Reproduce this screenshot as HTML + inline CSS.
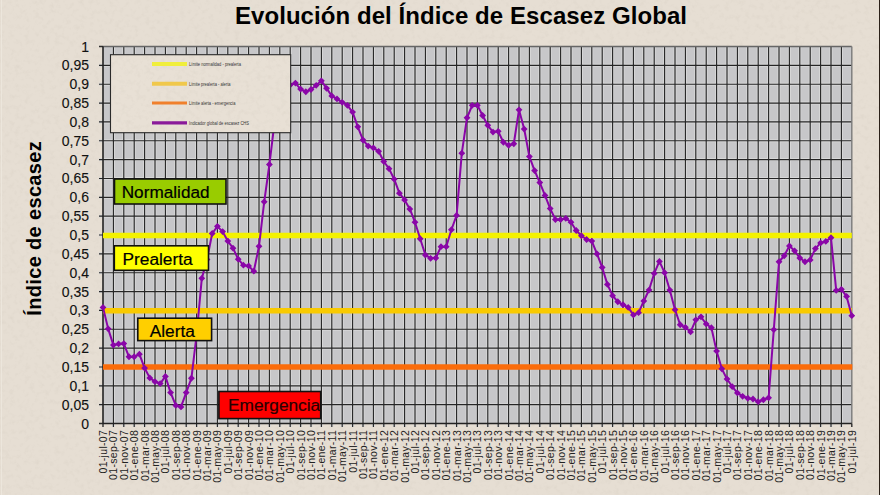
<!DOCTYPE html><html><head><meta charset="utf-8"><style>html,body{margin:0;padding:0;background:#e6ded3;}body{width:880px;height:495px;overflow:hidden;position:relative;font-family:"Liberation Sans",sans-serif;}svg{position:absolute;left:0;top:0;}</style></head><body><svg width="880" height="495" viewBox="0 0 880 495" font-family="Liberation Sans, sans-serif"><defs><filter id="tx" x="0" y="0" width="100%" height="100%"><feTurbulence type="fractalNoise" baseFrequency="0.2" numOctaves="3" seed="7" result="n"/><feColorMatrix in="n" type="matrix" values="0 0 0 0 0.45  0 0 0 0 0.4  0 0 0 0 0.33  2.5 0 0 0 -1.2"/></filter></defs><rect x="0" y="0" width="880" height="495" fill="#e6ded3"/><rect x="0" y="0" width="880" height="495" filter="url(#tx)" opacity="0.1"/><rect x="1" y="0" width="1" height="495" fill="#ece6dc"/><rect x="879" y="0" width="1" height="495" fill="#2a2018"/><text x="461" y="23.8" font-size="24" letter-spacing="0.07" font-weight="bold" text-anchor="middle" fill="#000">Evolución del Índice de Escasez Global</text><rect x="103.00" y="46.50" width="748.80" height="377.00" fill="#c7c7c9"/><path d="M113.40 46.50V427.00M123.80 46.50V427.00M134.20 46.50V427.00M144.60 46.50V427.00M155.00 46.50V427.00M165.40 46.50V427.00M175.80 46.50V427.00M186.20 46.50V427.00M196.60 46.50V427.00M207.00 46.50V427.00M217.40 46.50V427.00M227.80 46.50V427.00M238.20 46.50V427.00M248.60 46.50V427.00M259.00 46.50V427.00M269.40 46.50V427.00M279.80 46.50V427.00M290.20 46.50V427.00M300.60 46.50V427.00M311.00 46.50V427.00M321.40 46.50V427.00M331.80 46.50V427.00M342.20 46.50V427.00M352.60 46.50V427.00M363.00 46.50V427.00M373.40 46.50V427.00M383.80 46.50V427.00M394.20 46.50V427.00M404.60 46.50V427.00M415.00 46.50V427.00M425.40 46.50V427.00M435.80 46.50V427.00M446.20 46.50V427.00M456.60 46.50V427.00M467.00 46.50V427.00M477.40 46.50V427.00M487.80 46.50V427.00M498.20 46.50V427.00M508.60 46.50V427.00M519.00 46.50V427.00M529.40 46.50V427.00M539.80 46.50V427.00M550.20 46.50V427.00M560.60 46.50V427.00M571.00 46.50V427.00M581.40 46.50V427.00M591.80 46.50V427.00M602.20 46.50V427.00M612.60 46.50V427.00M623.00 46.50V427.00M633.40 46.50V427.00M643.80 46.50V427.00M654.20 46.50V427.00M664.60 46.50V427.00M675.00 46.50V427.00M685.40 46.50V427.00M695.80 46.50V427.00M706.20 46.50V427.00M716.60 46.50V427.00M727.00 46.50V427.00M737.40 46.50V427.00M747.80 46.50V427.00M758.20 46.50V427.00M768.60 46.50V427.00M779.00 46.50V427.00M789.40 46.50V427.00M799.80 46.50V427.00M810.20 46.50V427.00M820.60 46.50V427.00M831.00 46.50V427.00M841.40 46.50V427.00M99.00 65.35H851.80M99.00 84.20H851.80M99.00 103.05H851.80M99.00 121.90H851.80M99.00 140.75H851.80M99.00 159.60H851.80M99.00 178.45H851.80M99.00 197.30H851.80M99.00 216.15H851.80M99.00 235.00H851.80M99.00 253.85H851.80M99.00 272.70H851.80M99.00 291.55H851.80M99.00 310.40H851.80M99.00 329.25H851.80M99.00 348.10H851.80M99.00 366.95H851.80M99.00 385.80H851.80M99.00 404.65H851.80" stroke="#d8d8d8" stroke-width="3" fill="none"/><path d="M113.40 46.50V427.00M123.80 46.50V427.00M134.20 46.50V427.00M144.60 46.50V427.00M155.00 46.50V427.00M165.40 46.50V427.00M175.80 46.50V427.00M186.20 46.50V427.00M196.60 46.50V427.00M207.00 46.50V427.00M217.40 46.50V427.00M227.80 46.50V427.00M238.20 46.50V427.00M248.60 46.50V427.00M259.00 46.50V427.00M269.40 46.50V427.00M279.80 46.50V427.00M290.20 46.50V427.00M300.60 46.50V427.00M311.00 46.50V427.00M321.40 46.50V427.00M331.80 46.50V427.00M342.20 46.50V427.00M352.60 46.50V427.00M363.00 46.50V427.00M373.40 46.50V427.00M383.80 46.50V427.00M394.20 46.50V427.00M404.60 46.50V427.00M415.00 46.50V427.00M425.40 46.50V427.00M435.80 46.50V427.00M446.20 46.50V427.00M456.60 46.50V427.00M467.00 46.50V427.00M477.40 46.50V427.00M487.80 46.50V427.00M498.20 46.50V427.00M508.60 46.50V427.00M519.00 46.50V427.00M529.40 46.50V427.00M539.80 46.50V427.00M550.20 46.50V427.00M560.60 46.50V427.00M571.00 46.50V427.00M581.40 46.50V427.00M591.80 46.50V427.00M602.20 46.50V427.00M612.60 46.50V427.00M623.00 46.50V427.00M633.40 46.50V427.00M643.80 46.50V427.00M654.20 46.50V427.00M664.60 46.50V427.00M675.00 46.50V427.00M685.40 46.50V427.00M695.80 46.50V427.00M706.20 46.50V427.00M716.60 46.50V427.00M727.00 46.50V427.00M737.40 46.50V427.00M747.80 46.50V427.00M758.20 46.50V427.00M768.60 46.50V427.00M779.00 46.50V427.00M789.40 46.50V427.00M799.80 46.50V427.00M810.20 46.50V427.00M820.60 46.50V427.00M831.00 46.50V427.00M841.40 46.50V427.00M99.00 65.35H851.80M99.00 84.20H851.80M99.00 103.05H851.80M99.00 121.90H851.80M99.00 140.75H851.80M99.00 159.60H851.80M99.00 178.45H851.80M99.00 197.30H851.80M99.00 216.15H851.80M99.00 235.00H851.80M99.00 253.85H851.80M99.00 272.70H851.80M99.00 291.55H851.80M99.00 310.40H851.80M99.00 329.25H851.80M99.00 348.10H851.80M99.00 366.95H851.80M99.00 385.80H851.80M99.00 404.65H851.80" stroke="#262626" stroke-width="1.15" fill="none"/><path d="M99.00 46.50H103.00 M99.00 423.50H103.00 M103.00 423.50V427.00 M851.80 423.50V427.00" stroke="#2e2e2e" stroke-width="1.4"/><path d="M103.00 46.50H851.80" stroke="#666" stroke-width="1.5"/><path d="M851.80 46.50V423.50" stroke="#7a7a7a" stroke-width="1.4"/><path d="M103.00 46.50V423.50" stroke="#222" stroke-width="1.6"/><path d="M103.00 423.50H851.80" stroke="#222" stroke-width="1.6"/><path d="M103.00 235.60H851.80" stroke="#f4f200" stroke-width="5.5"/><path d="M103.00 310.80H851.80" stroke="#f9ca00" stroke-width="5.5"/><path d="M103.00 366.95H852.30" stroke="#fb6c0a" stroke-width="5.5"/><polyline points="103.00,307.38 108.20,328.87 113.40,345.08 118.60,343.95 123.80,343.58 129.00,356.77 134.20,356.77 139.40,354.13 144.60,368.08 149.80,377.88 155.00,381.65 160.20,383.54 165.40,376.38 170.60,392.59 175.80,405.40 181.00,406.91 186.20,392.59 191.40,378.26 196.60,334.90 201.80,278.36 207.00,259.50 212.20,233.49 217.40,226.33 222.60,231.61 227.80,241.03 233.00,248.19 238.20,259.13 243.40,265.16 248.60,265.91 253.80,271.19 259.00,246.31 264.20,201.82 269.40,164.50 274.60,121.90 279.80,99.28 285.00,87.97 290.20,84.95 295.40,83.07 300.60,89.10 305.80,91.74 311.00,89.48 316.20,85.33 321.40,80.81 326.60,88.35 331.80,95.89 337.00,98.90 342.20,102.30 347.40,105.31 352.60,112.10 357.80,126.80 363.00,140.00 368.20,146.03 373.40,147.91 378.60,151.31 383.80,161.49 389.00,168.65 394.20,179.20 399.40,193.15 404.60,199.94 409.80,208.99 415.00,222.18 420.20,238.77 425.40,254.98 430.60,258.37 435.80,258.00 441.00,246.69 446.20,246.69 451.40,229.72 456.60,215.40 461.80,153.19 467.00,117.75 472.20,105.31 477.40,105.31 482.60,115.49 487.80,125.29 493.00,132.08 498.20,131.32 503.40,142.26 508.60,145.27 513.80,143.77 519.00,109.84 524.20,129.06 529.40,156.58 534.60,170.53 539.80,182.60 545.00,195.42 550.20,208.61 555.40,219.54 560.60,219.54 565.80,218.41 571.00,222.18 576.20,230.48 581.40,235.75 586.60,239.52 591.80,241.03 597.00,253.85 602.20,267.42 607.40,284.39 612.60,295.70 617.80,301.73 623.00,304.75 628.20,307.38 633.40,314.92 638.60,312.66 643.80,300.98 649.00,290.04 654.20,273.45 659.40,261.39 664.60,272.70 669.80,290.04 675.00,309.65 680.20,324.73 685.40,327.37 690.60,331.89 695.80,319.82 701.00,316.81 706.20,323.97 711.40,327.74 716.60,351.12 721.80,368.83 727.00,379.01 732.20,386.55 737.40,392.96 742.60,396.36 747.80,398.24 753.00,399.00 758.20,401.63 763.40,399.75 768.60,397.86 773.80,329.63 779.00,261.77 784.20,255.73 789.40,245.93 794.60,250.83 799.80,258.00 805.00,261.77 810.20,259.88 815.40,248.57 820.60,242.92 825.80,241.41 831.00,237.64 836.20,290.42 841.40,289.29 846.60,296.45 851.80,315.68" fill="none" stroke="#8a06a8" stroke-width="2.0" stroke-linejoin="round"/><path d="M103.00 303.98l3.4 3.4l-3.4 3.4l-3.4 -3.4zM108.20 325.47l3.4 3.4l-3.4 3.4l-3.4 -3.4zM113.40 341.68l3.4 3.4l-3.4 3.4l-3.4 -3.4zM118.60 340.55l3.4 3.4l-3.4 3.4l-3.4 -3.4zM123.80 340.18l3.4 3.4l-3.4 3.4l-3.4 -3.4zM129.00 353.37l3.4 3.4l-3.4 3.4l-3.4 -3.4zM134.20 353.37l3.4 3.4l-3.4 3.4l-3.4 -3.4zM139.40 350.73l3.4 3.4l-3.4 3.4l-3.4 -3.4zM144.60 364.68l3.4 3.4l-3.4 3.4l-3.4 -3.4zM149.80 374.48l3.4 3.4l-3.4 3.4l-3.4 -3.4zM155.00 378.25l3.4 3.4l-3.4 3.4l-3.4 -3.4zM160.20 380.14l3.4 3.4l-3.4 3.4l-3.4 -3.4zM165.40 372.98l3.4 3.4l-3.4 3.4l-3.4 -3.4zM170.60 389.19l3.4 3.4l-3.4 3.4l-3.4 -3.4zM175.80 402.00l3.4 3.4l-3.4 3.4l-3.4 -3.4zM181.00 403.51l3.4 3.4l-3.4 3.4l-3.4 -3.4zM186.20 389.19l3.4 3.4l-3.4 3.4l-3.4 -3.4zM191.40 374.86l3.4 3.4l-3.4 3.4l-3.4 -3.4zM196.60 331.50l3.4 3.4l-3.4 3.4l-3.4 -3.4zM201.80 274.96l3.4 3.4l-3.4 3.4l-3.4 -3.4zM207.00 256.11l3.4 3.4l-3.4 3.4l-3.4 -3.4zM212.20 230.09l3.4 3.4l-3.4 3.4l-3.4 -3.4zM217.40 222.93l3.4 3.4l-3.4 3.4l-3.4 -3.4zM222.60 228.21l3.4 3.4l-3.4 3.4l-3.4 -3.4zM227.80 237.63l3.4 3.4l-3.4 3.4l-3.4 -3.4zM233.00 244.79l3.4 3.4l-3.4 3.4l-3.4 -3.4zM238.20 255.73l3.4 3.4l-3.4 3.4l-3.4 -3.4zM243.40 261.76l3.4 3.4l-3.4 3.4l-3.4 -3.4zM248.60 262.51l3.4 3.4l-3.4 3.4l-3.4 -3.4zM253.80 267.79l3.4 3.4l-3.4 3.4l-3.4 -3.4zM259.00 242.91l3.4 3.4l-3.4 3.4l-3.4 -3.4zM264.20 198.42l3.4 3.4l-3.4 3.4l-3.4 -3.4zM269.40 161.10l3.4 3.4l-3.4 3.4l-3.4 -3.4zM274.60 118.50l3.4 3.4l-3.4 3.4l-3.4 -3.4zM279.80 95.88l3.4 3.4l-3.4 3.4l-3.4 -3.4zM285.00 84.57l3.4 3.4l-3.4 3.4l-3.4 -3.4zM290.20 81.55l3.4 3.4l-3.4 3.4l-3.4 -3.4zM295.40 79.67l3.4 3.4l-3.4 3.4l-3.4 -3.4zM300.60 85.70l3.4 3.4l-3.4 3.4l-3.4 -3.4zM305.80 88.34l3.4 3.4l-3.4 3.4l-3.4 -3.4zM311.00 86.08l3.4 3.4l-3.4 3.4l-3.4 -3.4zM316.20 81.93l3.4 3.4l-3.4 3.4l-3.4 -3.4zM321.40 77.41l3.4 3.4l-3.4 3.4l-3.4 -3.4zM326.60 84.95l3.4 3.4l-3.4 3.4l-3.4 -3.4zM331.80 92.49l3.4 3.4l-3.4 3.4l-3.4 -3.4zM337.00 95.50l3.4 3.4l-3.4 3.4l-3.4 -3.4zM342.20 98.90l3.4 3.4l-3.4 3.4l-3.4 -3.4zM347.40 101.91l3.4 3.4l-3.4 3.4l-3.4 -3.4zM352.60 108.70l3.4 3.4l-3.4 3.4l-3.4 -3.4zM357.80 123.40l3.4 3.4l-3.4 3.4l-3.4 -3.4zM363.00 136.60l3.4 3.4l-3.4 3.4l-3.4 -3.4zM368.20 142.63l3.4 3.4l-3.4 3.4l-3.4 -3.4zM373.40 144.51l3.4 3.4l-3.4 3.4l-3.4 -3.4zM378.60 147.91l3.4 3.4l-3.4 3.4l-3.4 -3.4zM383.80 158.09l3.4 3.4l-3.4 3.4l-3.4 -3.4zM389.00 165.25l3.4 3.4l-3.4 3.4l-3.4 -3.4zM394.20 175.80l3.4 3.4l-3.4 3.4l-3.4 -3.4zM399.40 189.75l3.4 3.4l-3.4 3.4l-3.4 -3.4zM404.60 196.54l3.4 3.4l-3.4 3.4l-3.4 -3.4zM409.80 205.59l3.4 3.4l-3.4 3.4l-3.4 -3.4zM415.00 218.78l3.4 3.4l-3.4 3.4l-3.4 -3.4zM420.20 235.37l3.4 3.4l-3.4 3.4l-3.4 -3.4zM425.40 251.58l3.4 3.4l-3.4 3.4l-3.4 -3.4zM430.60 254.97l3.4 3.4l-3.4 3.4l-3.4 -3.4zM435.80 254.60l3.4 3.4l-3.4 3.4l-3.4 -3.4zM441.00 243.29l3.4 3.4l-3.4 3.4l-3.4 -3.4zM446.20 243.29l3.4 3.4l-3.4 3.4l-3.4 -3.4zM451.40 226.32l3.4 3.4l-3.4 3.4l-3.4 -3.4zM456.60 212.00l3.4 3.4l-3.4 3.4l-3.4 -3.4zM461.80 149.79l3.4 3.4l-3.4 3.4l-3.4 -3.4zM467.00 114.35l3.4 3.4l-3.4 3.4l-3.4 -3.4zM472.20 101.91l3.4 3.4l-3.4 3.4l-3.4 -3.4zM477.40 101.91l3.4 3.4l-3.4 3.4l-3.4 -3.4zM482.60 112.09l3.4 3.4l-3.4 3.4l-3.4 -3.4zM487.80 121.89l3.4 3.4l-3.4 3.4l-3.4 -3.4zM493.00 128.68l3.4 3.4l-3.4 3.4l-3.4 -3.4zM498.20 127.92l3.4 3.4l-3.4 3.4l-3.4 -3.4zM503.40 138.86l3.4 3.4l-3.4 3.4l-3.4 -3.4zM508.60 141.87l3.4 3.4l-3.4 3.4l-3.4 -3.4zM513.80 140.37l3.4 3.4l-3.4 3.4l-3.4 -3.4zM519.00 106.44l3.4 3.4l-3.4 3.4l-3.4 -3.4zM524.20 125.66l3.4 3.4l-3.4 3.4l-3.4 -3.4zM529.40 153.18l3.4 3.4l-3.4 3.4l-3.4 -3.4zM534.60 167.13l3.4 3.4l-3.4 3.4l-3.4 -3.4zM539.80 179.20l3.4 3.4l-3.4 3.4l-3.4 -3.4zM545.00 192.02l3.4 3.4l-3.4 3.4l-3.4 -3.4zM550.20 205.21l3.4 3.4l-3.4 3.4l-3.4 -3.4zM555.40 216.14l3.4 3.4l-3.4 3.4l-3.4 -3.4zM560.60 216.14l3.4 3.4l-3.4 3.4l-3.4 -3.4zM565.80 215.01l3.4 3.4l-3.4 3.4l-3.4 -3.4zM571.00 218.78l3.4 3.4l-3.4 3.4l-3.4 -3.4zM576.20 227.08l3.4 3.4l-3.4 3.4l-3.4 -3.4zM581.40 232.35l3.4 3.4l-3.4 3.4l-3.4 -3.4zM586.60 236.12l3.4 3.4l-3.4 3.4l-3.4 -3.4zM591.80 237.63l3.4 3.4l-3.4 3.4l-3.4 -3.4zM597.00 250.45l3.4 3.4l-3.4 3.4l-3.4 -3.4zM602.20 264.02l3.4 3.4l-3.4 3.4l-3.4 -3.4zM607.40 280.99l3.4 3.4l-3.4 3.4l-3.4 -3.4zM612.60 292.30l3.4 3.4l-3.4 3.4l-3.4 -3.4zM617.80 298.33l3.4 3.4l-3.4 3.4l-3.4 -3.4zM623.00 301.35l3.4 3.4l-3.4 3.4l-3.4 -3.4zM628.20 303.98l3.4 3.4l-3.4 3.4l-3.4 -3.4zM633.40 311.52l3.4 3.4l-3.4 3.4l-3.4 -3.4zM638.60 309.26l3.4 3.4l-3.4 3.4l-3.4 -3.4zM643.80 297.58l3.4 3.4l-3.4 3.4l-3.4 -3.4zM649.00 286.64l3.4 3.4l-3.4 3.4l-3.4 -3.4zM654.20 270.05l3.4 3.4l-3.4 3.4l-3.4 -3.4zM659.40 257.99l3.4 3.4l-3.4 3.4l-3.4 -3.4zM664.60 269.30l3.4 3.4l-3.4 3.4l-3.4 -3.4zM669.80 286.64l3.4 3.4l-3.4 3.4l-3.4 -3.4zM675.00 306.25l3.4 3.4l-3.4 3.4l-3.4 -3.4zM680.20 321.33l3.4 3.4l-3.4 3.4l-3.4 -3.4zM685.40 323.97l3.4 3.4l-3.4 3.4l-3.4 -3.4zM690.60 328.49l3.4 3.4l-3.4 3.4l-3.4 -3.4zM695.80 316.43l3.4 3.4l-3.4 3.4l-3.4 -3.4zM701.00 313.41l3.4 3.4l-3.4 3.4l-3.4 -3.4zM706.20 320.57l3.4 3.4l-3.4 3.4l-3.4 -3.4zM711.40 324.34l3.4 3.4l-3.4 3.4l-3.4 -3.4zM716.60 347.72l3.4 3.4l-3.4 3.4l-3.4 -3.4zM721.80 365.44l3.4 3.4l-3.4 3.4l-3.4 -3.4zM727.00 375.61l3.4 3.4l-3.4 3.4l-3.4 -3.4zM732.20 383.15l3.4 3.4l-3.4 3.4l-3.4 -3.4zM737.40 389.56l3.4 3.4l-3.4 3.4l-3.4 -3.4zM742.60 392.96l3.4 3.4l-3.4 3.4l-3.4 -3.4zM747.80 394.84l3.4 3.4l-3.4 3.4l-3.4 -3.4zM753.00 395.60l3.4 3.4l-3.4 3.4l-3.4 -3.4zM758.20 398.23l3.4 3.4l-3.4 3.4l-3.4 -3.4zM763.40 396.35l3.4 3.4l-3.4 3.4l-3.4 -3.4zM768.60 394.46l3.4 3.4l-3.4 3.4l-3.4 -3.4zM773.80 326.23l3.4 3.4l-3.4 3.4l-3.4 -3.4zM779.00 258.37l3.4 3.4l-3.4 3.4l-3.4 -3.4zM784.20 252.33l3.4 3.4l-3.4 3.4l-3.4 -3.4zM789.40 242.53l3.4 3.4l-3.4 3.4l-3.4 -3.4zM794.60 247.43l3.4 3.4l-3.4 3.4l-3.4 -3.4zM799.80 254.60l3.4 3.4l-3.4 3.4l-3.4 -3.4zM805.00 258.37l3.4 3.4l-3.4 3.4l-3.4 -3.4zM810.20 256.48l3.4 3.4l-3.4 3.4l-3.4 -3.4zM815.40 245.17l3.4 3.4l-3.4 3.4l-3.4 -3.4zM820.60 239.52l3.4 3.4l-3.4 3.4l-3.4 -3.4zM825.80 238.01l3.4 3.4l-3.4 3.4l-3.4 -3.4zM831.00 234.24l3.4 3.4l-3.4 3.4l-3.4 -3.4zM836.20 287.02l3.4 3.4l-3.4 3.4l-3.4 -3.4zM841.40 285.89l3.4 3.4l-3.4 3.4l-3.4 -3.4zM846.60 293.05l3.4 3.4l-3.4 3.4l-3.4 -3.4zM851.80 312.28l3.4 3.4l-3.4 3.4l-3.4 -3.4z" fill="#8a06a8"/><rect x="114.50" y="179.00" width="111.50" height="25.00" fill="#99cc00" stroke="#111" stroke-width="1.6"/><text x="121.70" y="197.69" font-size="17.2" fill="#000" stroke="#000" stroke-width="0.2">Normalidad</text><rect x="114.30" y="245.80" width="94.20" height="24.50" fill="#ffff00" stroke="#111" stroke-width="1.6"/><text x="122.50" y="265.28" font-size="17.3" fill="#000" stroke="#000" stroke-width="0.2">Prealerta</text><rect x="137.80" y="318.20" width="73.80" height="22.40" fill="#ffcf00" stroke="#111" stroke-width="1.6"/><text x="149.70" y="336.63" font-size="17.3" fill="#000" stroke="#000" stroke-width="0.2">Alerta</text><rect x="218.90" y="391.50" width="101.80" height="27.10" fill="#ff0000" stroke="#111" stroke-width="1.6"/><text x="228.00" y="410.78" font-size="17.3" fill="#2a0000" stroke="#2a0000" stroke-width="0.2">Emergencia</text><rect x="110.5" y="54.7" width="180.2" height="78.0" fill="#e8e0d5" stroke="#2a2a2a" stroke-width="1.1"/><svg x="111.1" y="55.3" width="179" height="76.8"><rect x="-111.1" y="-55.3" width="880" height="495" filter="url(#tx)" opacity="0.1"/></svg><path d="M152 63.90H187" stroke="#f0ee3c" stroke-width="4.0"/><text x="189" y="65.70" font-size="5" textLength="52.0" lengthAdjust="spacingAndGlyphs" fill="#333">Límite normalidad - prealerta</text><path d="M152 83.80H187" stroke="#f0c84c" stroke-width="4.0"/><text x="189" y="85.60" font-size="5" textLength="41.5" lengthAdjust="spacingAndGlyphs" fill="#333">Límite prealerta - alerta</text><path d="M152 103.00H187" stroke="#f0802c" stroke-width="3.2"/><text x="189" y="104.80" font-size="5" textLength="46.5" lengthAdjust="spacingAndGlyphs" fill="#333">Límite alerta - emergencia</text><path d="M152 122.80H187" stroke="#8a1a9a" stroke-width="3.2"/><text x="189" y="124.60" font-size="5" textLength="60.0" lengthAdjust="spacingAndGlyphs" fill="#333">Indicador global de escasez CHS</text><text x="89" y="51.50" font-size="14" text-anchor="end" fill="#111" stroke="#111" stroke-width="0.12">1</text><text x="89" y="70.35" font-size="14" text-anchor="end" fill="#111" stroke="#111" stroke-width="0.12">0,95</text><text x="89" y="89.20" font-size="14" text-anchor="end" fill="#111" stroke="#111" stroke-width="0.12">0,9</text><text x="89" y="108.05" font-size="14" text-anchor="end" fill="#111" stroke="#111" stroke-width="0.12">0,85</text><text x="89" y="126.90" font-size="14" text-anchor="end" fill="#111" stroke="#111" stroke-width="0.12">0,8</text><text x="89" y="145.75" font-size="14" text-anchor="end" fill="#111" stroke="#111" stroke-width="0.12">0,75</text><text x="89" y="164.60" font-size="14" text-anchor="end" fill="#111" stroke="#111" stroke-width="0.12">0,7</text><text x="89" y="183.45" font-size="14" text-anchor="end" fill="#111" stroke="#111" stroke-width="0.12">0,65</text><text x="89" y="202.30" font-size="14" text-anchor="end" fill="#111" stroke="#111" stroke-width="0.12">0,6</text><text x="89" y="221.15" font-size="14" text-anchor="end" fill="#111" stroke="#111" stroke-width="0.12">0,55</text><text x="89" y="240.00" font-size="14" text-anchor="end" fill="#111" stroke="#111" stroke-width="0.12">0,5</text><text x="89" y="258.85" font-size="14" text-anchor="end" fill="#111" stroke="#111" stroke-width="0.12">0,45</text><text x="89" y="277.70" font-size="14" text-anchor="end" fill="#111" stroke="#111" stroke-width="0.12">0,4</text><text x="89" y="296.55" font-size="14" text-anchor="end" fill="#111" stroke="#111" stroke-width="0.12">0,35</text><text x="89" y="315.40" font-size="14" text-anchor="end" fill="#111" stroke="#111" stroke-width="0.12">0,3</text><text x="89" y="334.25" font-size="14" text-anchor="end" fill="#111" stroke="#111" stroke-width="0.12">0,25</text><text x="89" y="353.10" font-size="14" text-anchor="end" fill="#111" stroke="#111" stroke-width="0.12">0,2</text><text x="89" y="371.95" font-size="14" text-anchor="end" fill="#111" stroke="#111" stroke-width="0.12">0,15</text><text x="89" y="390.80" font-size="14" text-anchor="end" fill="#111" stroke="#111" stroke-width="0.12">0,1</text><text x="89" y="409.65" font-size="14" text-anchor="end" fill="#111" stroke="#111" stroke-width="0.12">0,05</text><text x="89" y="428.50" font-size="14" text-anchor="end" fill="#111" stroke="#111" stroke-width="0.12">0</text><text transform="translate(41.2 228.3) rotate(-90)" font-size="20.1" letter-spacing="0.3" font-weight="bold" text-anchor="middle" fill="#000">Índice de escasez</text><text transform="translate(107.00 429.9) rotate(-90)" font-size="10.5" letter-spacing="0.3" text-anchor="end" fill="#222">01-jul-07</text><text transform="translate(117.40 429.9) rotate(-90)" font-size="10.5" letter-spacing="0.3" text-anchor="end" fill="#222">01-sep-07</text><text transform="translate(127.80 429.9) rotate(-90)" font-size="10.5" letter-spacing="0.3" text-anchor="end" fill="#222">01-nov-07</text><text transform="translate(138.20 429.9) rotate(-90)" font-size="10.5" letter-spacing="0.3" text-anchor="end" fill="#222">01-ene-08</text><text transform="translate(148.60 429.9) rotate(-90)" font-size="10.5" letter-spacing="0.3" text-anchor="end" fill="#222">01-mar-08</text><text transform="translate(159.00 429.9) rotate(-90)" font-size="10.5" letter-spacing="0.3" text-anchor="end" fill="#222">01-may-08</text><text transform="translate(169.40 429.9) rotate(-90)" font-size="10.5" letter-spacing="0.3" text-anchor="end" fill="#222">01-jul-08</text><text transform="translate(179.80 429.9) rotate(-90)" font-size="10.5" letter-spacing="0.3" text-anchor="end" fill="#222">01-sep-08</text><text transform="translate(190.20 429.9) rotate(-90)" font-size="10.5" letter-spacing="0.3" text-anchor="end" fill="#222">01-nov-08</text><text transform="translate(200.60 429.9) rotate(-90)" font-size="10.5" letter-spacing="0.3" text-anchor="end" fill="#222">01-ene-09</text><text transform="translate(211.00 429.9) rotate(-90)" font-size="10.5" letter-spacing="0.3" text-anchor="end" fill="#222">01-mar-09</text><text transform="translate(221.40 429.9) rotate(-90)" font-size="10.5" letter-spacing="0.3" text-anchor="end" fill="#222">01-may-09</text><text transform="translate(231.80 429.9) rotate(-90)" font-size="10.5" letter-spacing="0.3" text-anchor="end" fill="#222">01-jul-09</text><text transform="translate(242.20 429.9) rotate(-90)" font-size="10.5" letter-spacing="0.3" text-anchor="end" fill="#222">01-sep-09</text><text transform="translate(252.60 429.9) rotate(-90)" font-size="10.5" letter-spacing="0.3" text-anchor="end" fill="#222">01-nov-09</text><text transform="translate(263.00 429.9) rotate(-90)" font-size="10.5" letter-spacing="0.3" text-anchor="end" fill="#222">01-ene-10</text><text transform="translate(273.40 429.9) rotate(-90)" font-size="10.5" letter-spacing="0.3" text-anchor="end" fill="#222">01-mar-10</text><text transform="translate(283.80 429.9) rotate(-90)" font-size="10.5" letter-spacing="0.3" text-anchor="end" fill="#222">01-may-10</text><text transform="translate(294.20 429.9) rotate(-90)" font-size="10.5" letter-spacing="0.3" text-anchor="end" fill="#222">01-jul-10</text><text transform="translate(304.60 429.9) rotate(-90)" font-size="10.5" letter-spacing="0.3" text-anchor="end" fill="#222">01-sep-10</text><text transform="translate(315.00 429.9) rotate(-90)" font-size="10.5" letter-spacing="0.3" text-anchor="end" fill="#222">01-nov-10</text><text transform="translate(325.40 429.9) rotate(-90)" font-size="10.5" letter-spacing="0.3" text-anchor="end" fill="#222">01-ene-11</text><text transform="translate(335.80 429.9) rotate(-90)" font-size="10.5" letter-spacing="0.3" text-anchor="end" fill="#222">01-mar-11</text><text transform="translate(346.20 429.9) rotate(-90)" font-size="10.5" letter-spacing="0.3" text-anchor="end" fill="#222">01-may-11</text><text transform="translate(356.60 429.9) rotate(-90)" font-size="10.5" letter-spacing="0.3" text-anchor="end" fill="#222">01-jul-11</text><text transform="translate(367.00 429.9) rotate(-90)" font-size="10.5" letter-spacing="0.3" text-anchor="end" fill="#222">01-sep-11</text><text transform="translate(377.40 429.9) rotate(-90)" font-size="10.5" letter-spacing="0.3" text-anchor="end" fill="#222">01-nov-11</text><text transform="translate(387.80 429.9) rotate(-90)" font-size="10.5" letter-spacing="0.3" text-anchor="end" fill="#222">01-ene-12</text><text transform="translate(398.20 429.9) rotate(-90)" font-size="10.5" letter-spacing="0.3" text-anchor="end" fill="#222">01-mar-12</text><text transform="translate(408.60 429.9) rotate(-90)" font-size="10.5" letter-spacing="0.3" text-anchor="end" fill="#222">01-may-12</text><text transform="translate(419.00 429.9) rotate(-90)" font-size="10.5" letter-spacing="0.3" text-anchor="end" fill="#222">01-jul-12</text><text transform="translate(429.40 429.9) rotate(-90)" font-size="10.5" letter-spacing="0.3" text-anchor="end" fill="#222">01-sep-12</text><text transform="translate(439.80 429.9) rotate(-90)" font-size="10.5" letter-spacing="0.3" text-anchor="end" fill="#222">01-nov-12</text><text transform="translate(450.20 429.9) rotate(-90)" font-size="10.5" letter-spacing="0.3" text-anchor="end" fill="#222">01-ene-13</text><text transform="translate(460.60 429.9) rotate(-90)" font-size="10.5" letter-spacing="0.3" text-anchor="end" fill="#222">01-mar-13</text><text transform="translate(471.00 429.9) rotate(-90)" font-size="10.5" letter-spacing="0.3" text-anchor="end" fill="#222">01-may-13</text><text transform="translate(481.40 429.9) rotate(-90)" font-size="10.5" letter-spacing="0.3" text-anchor="end" fill="#222">01-jul-13</text><text transform="translate(491.80 429.9) rotate(-90)" font-size="10.5" letter-spacing="0.3" text-anchor="end" fill="#222">01-sep-13</text><text transform="translate(502.20 429.9) rotate(-90)" font-size="10.5" letter-spacing="0.3" text-anchor="end" fill="#222">01-nov-13</text><text transform="translate(512.60 429.9) rotate(-90)" font-size="10.5" letter-spacing="0.3" text-anchor="end" fill="#222">01-ene-14</text><text transform="translate(523.00 429.9) rotate(-90)" font-size="10.5" letter-spacing="0.3" text-anchor="end" fill="#222">01-mar-14</text><text transform="translate(533.40 429.9) rotate(-90)" font-size="10.5" letter-spacing="0.3" text-anchor="end" fill="#222">01-may-14</text><text transform="translate(543.80 429.9) rotate(-90)" font-size="10.5" letter-spacing="0.3" text-anchor="end" fill="#222">01-jul-14</text><text transform="translate(554.20 429.9) rotate(-90)" font-size="10.5" letter-spacing="0.3" text-anchor="end" fill="#222">01-sep-14</text><text transform="translate(564.60 429.9) rotate(-90)" font-size="10.5" letter-spacing="0.3" text-anchor="end" fill="#222">01-nov-14</text><text transform="translate(575.00 429.9) rotate(-90)" font-size="10.5" letter-spacing="0.3" text-anchor="end" fill="#222">01-ene-15</text><text transform="translate(585.40 429.9) rotate(-90)" font-size="10.5" letter-spacing="0.3" text-anchor="end" fill="#222">01-mar-15</text><text transform="translate(595.80 429.9) rotate(-90)" font-size="10.5" letter-spacing="0.3" text-anchor="end" fill="#222">01-may-15</text><text transform="translate(606.20 429.9) rotate(-90)" font-size="10.5" letter-spacing="0.3" text-anchor="end" fill="#222">01-jul-15</text><text transform="translate(616.60 429.9) rotate(-90)" font-size="10.5" letter-spacing="0.3" text-anchor="end" fill="#222">01-sep-15</text><text transform="translate(627.00 429.9) rotate(-90)" font-size="10.5" letter-spacing="0.3" text-anchor="end" fill="#222">01-nov-15</text><text transform="translate(637.40 429.9) rotate(-90)" font-size="10.5" letter-spacing="0.3" text-anchor="end" fill="#222">01-ene-16</text><text transform="translate(647.80 429.9) rotate(-90)" font-size="10.5" letter-spacing="0.3" text-anchor="end" fill="#222">01-mar-16</text><text transform="translate(658.20 429.9) rotate(-90)" font-size="10.5" letter-spacing="0.3" text-anchor="end" fill="#222">01-may-16</text><text transform="translate(668.60 429.9) rotate(-90)" font-size="10.5" letter-spacing="0.3" text-anchor="end" fill="#222">01-jul-16</text><text transform="translate(679.00 429.9) rotate(-90)" font-size="10.5" letter-spacing="0.3" text-anchor="end" fill="#222">01-sep-16</text><text transform="translate(689.40 429.9) rotate(-90)" font-size="10.5" letter-spacing="0.3" text-anchor="end" fill="#222">01-nov-16</text><text transform="translate(699.80 429.9) rotate(-90)" font-size="10.5" letter-spacing="0.3" text-anchor="end" fill="#222">01-ene-17</text><text transform="translate(710.20 429.9) rotate(-90)" font-size="10.5" letter-spacing="0.3" text-anchor="end" fill="#222">01-mar-17</text><text transform="translate(720.60 429.9) rotate(-90)" font-size="10.5" letter-spacing="0.3" text-anchor="end" fill="#222">01-may-17</text><text transform="translate(731.00 429.9) rotate(-90)" font-size="10.5" letter-spacing="0.3" text-anchor="end" fill="#222">01-jul-17</text><text transform="translate(741.40 429.9) rotate(-90)" font-size="10.5" letter-spacing="0.3" text-anchor="end" fill="#222">01-sep-17</text><text transform="translate(751.80 429.9) rotate(-90)" font-size="10.5" letter-spacing="0.3" text-anchor="end" fill="#222">01-nov-17</text><text transform="translate(762.20 429.9) rotate(-90)" font-size="10.5" letter-spacing="0.3" text-anchor="end" fill="#222">01-ene-18</text><text transform="translate(772.60 429.9) rotate(-90)" font-size="10.5" letter-spacing="0.3" text-anchor="end" fill="#222">01-mar-18</text><text transform="translate(783.00 429.9) rotate(-90)" font-size="10.5" letter-spacing="0.3" text-anchor="end" fill="#222">01-may-18</text><text transform="translate(793.40 429.9) rotate(-90)" font-size="10.5" letter-spacing="0.3" text-anchor="end" fill="#222">01-jul-18</text><text transform="translate(803.80 429.9) rotate(-90)" font-size="10.5" letter-spacing="0.3" text-anchor="end" fill="#222">01-sep-18</text><text transform="translate(814.20 429.9) rotate(-90)" font-size="10.5" letter-spacing="0.3" text-anchor="end" fill="#222">01-nov-18</text><text transform="translate(824.60 429.9) rotate(-90)" font-size="10.5" letter-spacing="0.3" text-anchor="end" fill="#222">01-ene-19</text><text transform="translate(835.00 429.9) rotate(-90)" font-size="10.5" letter-spacing="0.3" text-anchor="end" fill="#222">01-mar-19</text><text transform="translate(845.40 429.9) rotate(-90)" font-size="10.5" letter-spacing="0.3" text-anchor="end" fill="#222">01-may-19</text><text transform="translate(855.80 429.9) rotate(-90)" font-size="10.5" letter-spacing="0.3" text-anchor="end" fill="#222">01-jul-19</text></svg></body></html>
